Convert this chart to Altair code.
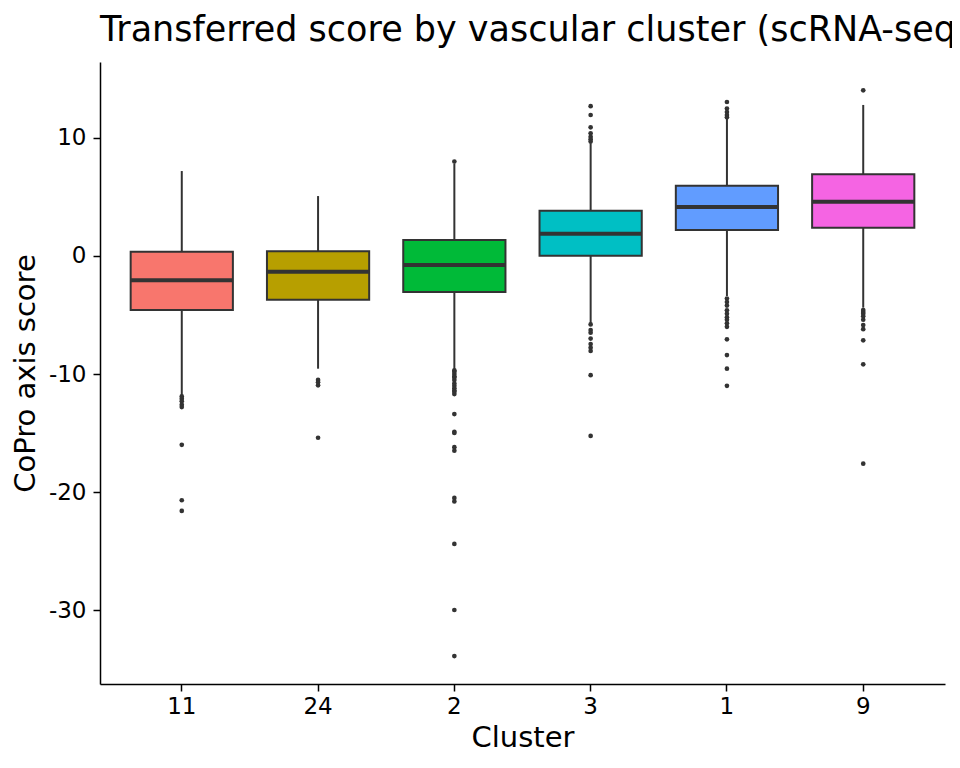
import altair as alt
import pandas as pd

clusters = ["11", "24", "2", "3", "1", "9"]
colors = ["#F8766D", "#B79F00", "#00BA38", "#00BFC4", "#619CFF", "#F564E3"]
whisker_lo = [-11.8, -9.55, -9.66, -5.7, -3.39, -4.38]
q1 = [-4.58, -3.7, -3.05, 0.03, 2.2, 2.4]
median = [-2.06, -1.33, -0.76, 1.89, 4.15, 4.6]
q3 = [0.36, 0.4, 1.36, 3.84, 5.96, 6.92]
whisker_hi = [7.2, 5.08, 7.8, 9.55, 11.7, 12.8]

outliers = {
    "11": [-11.9, -12.1, -12.3, -12.6, -12.8, -16.0, -20.7, -21.6],
    "24": [-10.5, -10.7, -10.96, -15.4],
    "2": [8.0, -9.7, -9.8, -10.0, -10.2, -10.3, -10.5, -10.8, -11.0, -11.2,
          -11.4, -11.5, -11.7, -13.4, -14.9, -15.0, -16.2, -16.5, -20.5,
          -20.8, -24.4, -30.0, -33.9],
    "3": [12.7, 11.95, 10.9, 10.4, 10.1, 9.9, 9.7, -5.8, -6.27, -6.5, -7.0,
          -7.46, -7.77, -8.05, -10.1, -15.25],
    "1": [13.05, 12.5, 12.2, 11.95, 11.75, -3.6, -3.9, -4.2, -4.6, -4.9,
          -5.2, -5.4, -5.7, -6.0, -7.06, -8.4, -9.55, -11.0],
    "9": [14.04, -4.58, -4.75, -4.9, -5.1, -5.4, -5.85, -6.2, -7.15, -9.18,
          -17.6],
}

stats = pd.DataFrame({
    "Cluster": clusters,
    "lo": whisker_lo,
    "q1": q1,
    "median": median,
    "q3": q3,
    "hi": whisker_hi,
})
out_rows = [{"Cluster": c, "value": v} for c in clusters for v in outliers[c]]
out_df = pd.DataFrame(out_rows)

ydom = [-36.27, 16.44]
xscale = alt.Scale(domain=clusters, paddingInner=0, paddingOuter=0.1)
yscale = alt.Scale(domain=ydom, nice=False, zero=False)

xenc = alt.X("Cluster:N", scale=xscale, sort=clusters, title="Cluster",
             axis=alt.Axis(labelAngle=0))
yaxis = alt.Axis(values=[10, 0, -10, -20, -30], labelExpr="'' + datum.value",
                 title="CoPro axis score")

base = alt.Chart(stats)

whisk_hi = base.mark_rule(color="#333333", strokeWidth=2).encode(
    x=xenc,
    y=alt.Y("q3:Q", scale=yscale, axis=yaxis),
    y2="hi:Q",
)
whisk_lo = base.mark_rule(color="#333333", strokeWidth=2).encode(
    x=xenc,
    y=alt.Y("lo:Q", scale=yscale),
    y2="q1:Q",
)
box = base.mark_bar(width=alt.RelativeBandSize(0.75), stroke="#333333",
                    strokeWidth=2, opacity=1).encode(
    x=xenc,
    y=alt.Y("q1:Q", scale=yscale),
    y2="q3:Q",
    color=alt.Color("Cluster:N", scale=alt.Scale(domain=clusters, range=colors),
                    legend=None),
)
med = base.mark_tick(size=102, thickness=4, color="#333333", opacity=1).encode(
    x=xenc,
    y=alt.Y("median:Q", scale=yscale),
)
pts = alt.Chart(out_df).mark_circle(size=22, color="#333333", opacity=1).encode(
    x=xenc,
    y=alt.Y("value:Q", scale=yscale),
)

chart = alt.layer(whisk_hi, whisk_lo, box, med, pts).properties(
    width=845,
    height=622,
    autosize=alt.AutoSizeParams(type="none"),
    padding={"left": 92, "top": 54, "right": 7, "bottom": 74},
    title=alt.Title("Transferred score by vascular cluster (scRNA-seq)",
                    anchor="start", frame="group", fontSize=35,
                    font="DejaVu Sans", fontWeight="normal", color="black",
                    offset=14),
).configure_view(stroke=None).configure_axis(
    domainColor="black", domainWidth=1.5, tickColor="black", tickWidth=1.5,
    tickSize=7, labelColor="black", labelFont="DejaVu Sans", labelFontSize=23,
    titleFont="DejaVu Sans", titleFontSize=29, titleFontWeight="normal",
    titleColor="black", grid=False,
).configure_axisY(labelPadding=7, titlePadding=8).configure_axisX(
    labelPadding=4, titlePadding=5)

chart.save("out.html", embed_options={"renderer": "svg", "actions": False})
